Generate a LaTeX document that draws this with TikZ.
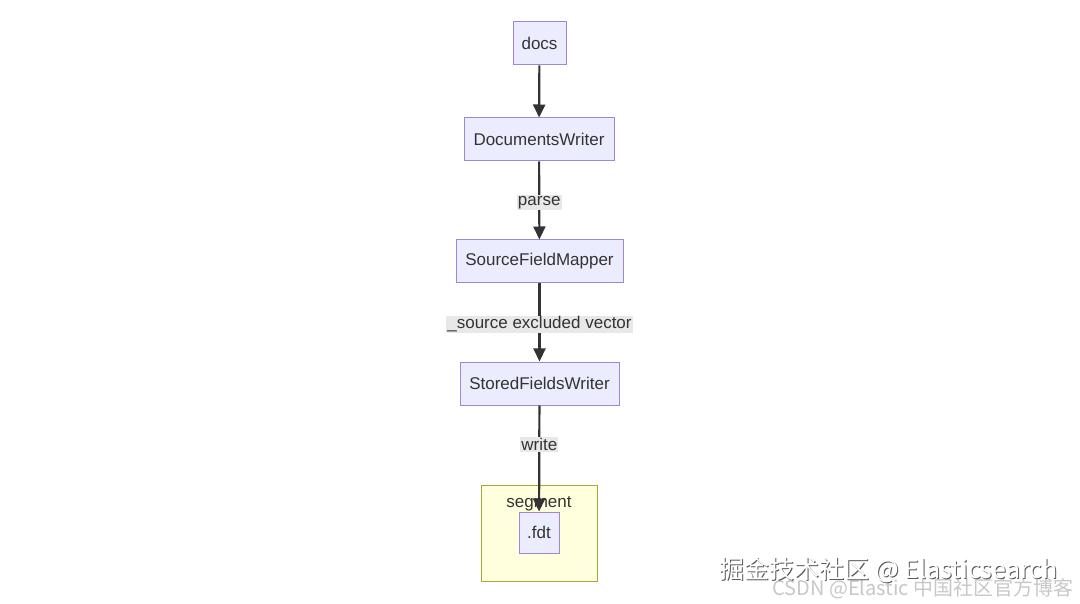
\documentclass[tikz,border=0pt]{standalone}
\usepackage{fontspec}
\setmainfont{Liberation Sans}
\newfontfamily\cjk{Noto Sans CJK SC}
\usetikzlibrary{arrows.meta}
\definecolor{nodefill}{HTML}{ECECFF}
\definecolor{nodeline}{HTML}{9F86D8}
\definecolor{clusterfill}{HTML}{FFFFDE}
\definecolor{clusterline}{HTML}{AAAA33}
\definecolor{edgecol}{HTML}{333333}
\definecolor{labelbg}{HTML}{E8E8E8}
\definecolor{wmgray}{HTML}{C8C8C8}
\tikzset{
  flownode/.style={draw=nodeline, fill=nodefill, line width=1pt, text=edgecol,
    font=\fontsize{17}{20}\selectfont, inner sep=0pt, anchor=center},
  flowedge/.style={draw=edgecol, line width=2.2pt, -{Triangle[length=13pt,width=12pt]}},
  edgelabel/.style={fill=labelbg, text=edgecol, font=\fontsize{17}{20}\selectfont, inner sep=1pt},
}
\begin{document}
\begin{tikzpicture}[x=1pt,y=-1pt]
\useasboundingbox[fill=white] (0,0) rectangle (1080,604);
% cluster
\node[draw=clusterline, fill=clusterfill, line width=1pt, minimum width=116pt, minimum height=96pt, inner sep=0pt] (segment) at (539,533) {};
\node[text=edgecol, font=\fontsize{17}{20}\selectfont] (segtitle) at (539,503.5) {segment};
% nodes
\node[flownode, minimum width=53pt, minimum height=43pt] (docs) at (539.5,43.5) {docs};
\node[flownode, minimum width=150pt, minimum height=43pt] (dw) at (539,139.5) {DocumentsWriter};
\node[flownode, minimum width=167pt, minimum height=43pt] (sfm) at (539.5,261.5) {SourceFieldMapper};
\node[flownode, minimum width=159pt, minimum height=43pt] (sfw) at (539.5,383.5) {StoredFieldsWriter};
\node[flownode, minimum width=40pt, minimum height=41pt] (fdt) at (539,532.5) {.fdt};
% edges
\draw[flowedge] (docs) -- (dw);
\draw[flowedge] (dw) -- node[edgelabel, yshift=-2pt] (lparse) {parse} (sfm);
\draw[flowedge] (sfm) -- node[edgelabel, yshift=-2pt] (lsrc) {\_source excluded vector} (sfw);
\draw[flowedge] (sfw) -- node[edgelabel, pos=0.36, yshift=-1pt] (lwrite) {write} (fdt);
% watermarks
\node[anchor=east, text=wmgray, font=\cjk\fontsize{20}{23}\selectfont] (wm2) at (1077,589) {CSDN @Elastic 中国社区官方博客};
\node[anchor=east, text=gray!70!black, font=\cjk\fontsize{25}{29}\selectfont] (wm1s) at (1062,571) {掘金技术社区 @ Elasticsearch};
\node[anchor=east, text=white, font=\cjk\fontsize{25}{29}\selectfont] (wm1) at (1061,570) {掘金技术社区 @ Elasticsearch};
\end{tikzpicture}
\end{document}
